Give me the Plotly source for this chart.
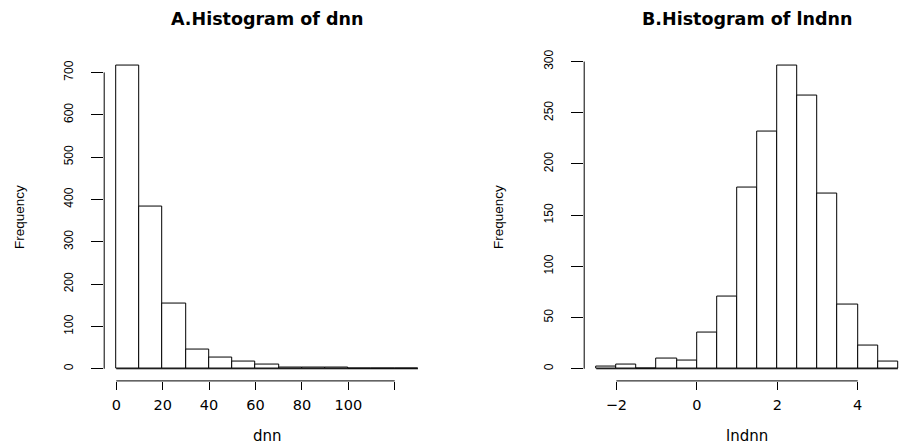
import plotly.graph_objects as go

# ---- data ----
dnn_edges = [0, 10, 20, 30, 40, 50, 60, 70, 80, 90, 100, 110, 120, 130]
dnn_counts = [716, 384, 155, 45, 27, 16, 9, 3, 2, 2, 1, 0, 1]

ln_edges = [-2.5, -2.0, -1.5, -1.0, -0.5, 0.0, 0.5, 1.0, 1.5, 2.0, 2.5, 3.0, 3.5, 4.0, 4.5, 5.0]
ln_counts = [2, 4, 0, 10, 8, 35, 71, 177, 232, 296, 267, 171, 63, 23, 7]

dnn_xticks = [0, 20, 40, 60, 80, 100, 120]
dnn_xticktext = ["0", "20", "40", "60", "80", "100", ""]
dnn_yticks = [0, 100, 200, 300, 400, 500, 600, 700]

ln_xticks = [-2, 0, 2, 4]
ln_xticktext = ["\u22122", "0", "2", "4"]
ln_yticks = [0, 50, 100, 150, 200, 250, 300]

W, H = 903, 447
HFONT = "DejaVu Sans"       # horizontal text (wide look)
VFONT = "Liberation Sans"   # rotated text


def centers(edges):
    return [(a + b) / 2 for a, b in zip(edges[:-1], edges[1:])]


def widths(edges):
    return [b - a for a, b in zip(edges[:-1], edges[1:])]


def ext(lo, hi):
    d = (hi - lo) * 0.04
    return [lo - d, hi + d]


fig = go.Figure()

bar_style = dict(marker=dict(color="white", line=dict(color="black", width=1)),
                 showlegend=False, hoverinfo="skip")

fig.add_trace(go.Bar(x=centers(dnn_edges), y=dnn_counts, width=widths(dnn_edges),
                     xaxis="x", yaxis="y", **bar_style))
fig.add_trace(go.Bar(x=centers(ln_edges), y=ln_counts, width=widths(ln_edges),
                     xaxis="x2", yaxis="y2", **bar_style))

# plot regions (pixels)
L_left, L_right = 104.2, 430.0
R_left = 584.2
P_top, P_bot = 50.0, 380.3
ydom = [1 - P_bot / H, 1 - P_top / H]

xr1 = ext(dnn_edges[0], dnn_edges[-1])
yr1 = ext(0, max(dnn_counts))
xr2 = ext(ln_edges[0], ln_edges[-1])
full_w2 = (L_right - L_left)
xr2_px_per_unit = full_w2 / (xr2[1] - xr2[0])
xr2_clip = [xr2[0], xr2[0] + (W - R_left) / xr2_px_per_unit]
yr2 = ext(0, max(ln_counts))

common_x = dict(showgrid=False, zeroline=False, showline=False, ticks="outside",
                ticklen=8, tickwidth=1, tickcolor="black",
                tickfont=dict(family=HFONT, size=14.5, color="black"),
                ticklabelstandoff=3, fixedrange=True)
common_y = dict(showgrid=False, zeroline=False, showline=False, ticks="outside",
                ticklen=12, tickwidth=1, tickcolor="black", tickangle=-90,
                tickfont=dict(family=VFONT, size=12, color="black"),
                ticklabelstandoff=13, fixedrange=True)

fig.update_layout(
    width=W, height=H, margin=dict(l=0, r=0, t=0, b=0),
    paper_bgcolor="white", plot_bgcolor="white", bargap=0,
    xaxis=dict(domain=[L_left / W, L_right / W], range=xr1, anchor="y",
               tickvals=dnn_xticks, ticktext=dnn_xticktext, **common_x),
    yaxis=dict(domain=ydom, range=yr1, anchor="x", tickvals=dnn_yticks, **common_y),
    xaxis2=dict(domain=[R_left / W, 1.0], range=xr2_clip, anchor="y2",
                tickvals=ln_xticks, ticktext=ln_xticktext, **common_x),
    yaxis2=dict(domain=ydom, range=yr2, anchor="x2", tickvals=ln_yticks, **common_y),
)

line = dict(color="black", width=1)
shapes = []
# axis lines spanning first to last tick (R style)
shapes.append(dict(type="line", xref="x", yref="paper", x0=dnn_xticks[0], x1=dnn_xticks[-1],
                   y0=ydom[0], y1=ydom[0], line=line))
shapes.append(dict(type="line", xref="paper", yref="y", x0=L_left / W, x1=L_left / W,
                   y0=dnn_yticks[0], y1=dnn_yticks[-1], line=line))
shapes.append(dict(type="line", xref="x2", yref="paper", x0=ln_xticks[0], x1=ln_xticks[-1],
                   y0=ydom[0], y1=ydom[0], line=line))
shapes.append(dict(type="line", xref="paper", yref="y2", x0=R_left / W, x1=R_left / W,
                   y0=ln_yticks[0], y1=ln_yticks[-1], line=line))
# bar baselines (zero-height bins still drawn as outlines in R)
shapes.append(dict(type="line", xref="x", yref="y", x0=dnn_edges[0], x1=dnn_edges[-1],
                   y0=0, y1=0, line=line))
shapes.append(dict(type="line", xref="x2", yref="y2", x0=ln_edges[0], x1=ln_edges[-1],
                   y0=0, y1=0, line=line))
fig.update_layout(shapes=shapes)

ann_font = dict(family=HFONT, size=15, color="black")
title_font = dict(family=HFONT, size=17.5, color="black")
freq_font = dict(family=VFONT, size=13.5, color="black")
lc = (L_left + L_right) / 2 / W
rc = (R_left + R_left + (L_right - L_left)) / 2 / W
annotations = [
    dict(text="<b>A.Histogram of dnn</b>", x=lc, y=1 - 15 / H, font=title_font),
    dict(text="<b>B.Histogram of lndnn</b>", x=rc, y=1 - 15 / H, font=title_font),
    dict(text="dnn", x=lc, y=1 - 436 / H, font=ann_font),
    dict(text="lndnn", x=rc, y=1 - 436 / H, font=ann_font),
    dict(text="Frequency", x=19 / W, y=1 - 215 / H, textangle=-90, font=freq_font),
    dict(text="Frequency", x=498 / W, y=1 - 215 / H, textangle=-90, font=freq_font),
]
for a in annotations:
    a.update(xref="paper", yref="paper", xanchor="center", yanchor="middle", showarrow=False)
fig.update_layout(annotations=annotations)

fig.write_html("out.html")
